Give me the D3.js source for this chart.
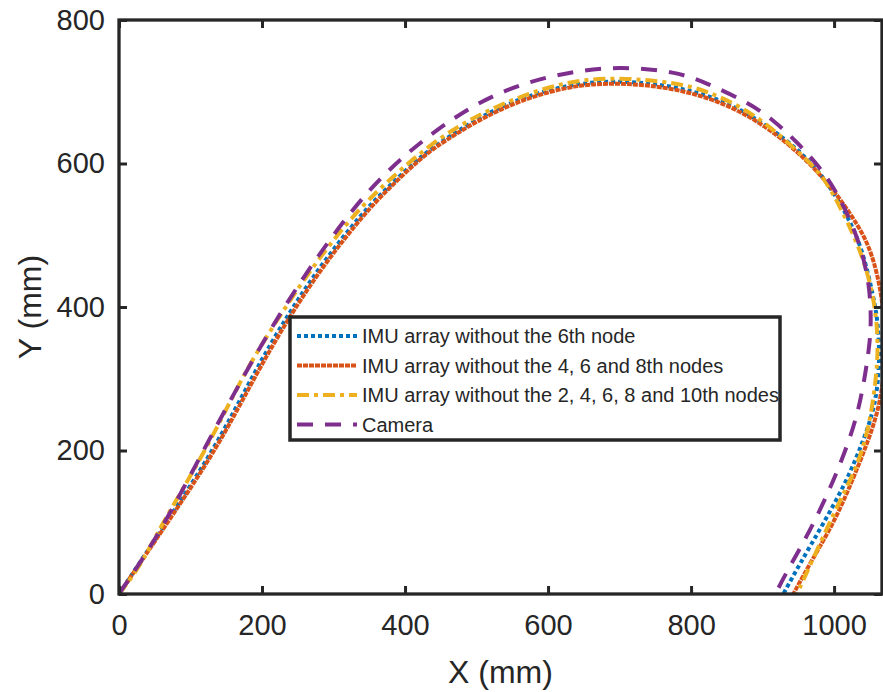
<!DOCTYPE html>
<html>
<head>
<meta charset="utf-8">
<script src="https://cdn.jsdelivr.net/npm/d3@7"></script>
<style>
  body { margin: 0; background: #fff; }
  svg { display: block; }
  text { font-family: "Liberation Sans", Arial, sans-serif; fill: #262626; }
</style>
</head>
<body>
<svg width="883" height="692"></svg>
<script>
// tick labels
const xTicks = [0, 200, 400, 600, 800, 1000];
const yTicks = [0, 200, 400, 600, 800];

const seriesNames = [
  'IMU array without the 6th node',
  'IMU array without the 4, 6 and 8th nodes',
  'IMU array without the 2, 4, 6, 8 and 10th nodes',
  'Camera'
];

// IMU array without the 6th node
const blueX = [0, 65, 135, 190, 237, 284, 340, 372, 415, 446, 530, 625, 701, 780, 859, 934, 980, 1018, 1040, 1054, 1062, 1064, 1057, 1041, 1018, 985, 952, 929];
const blueY = [0, 98, 204, 311, 391, 461, 531, 563, 604, 628, 681, 711, 716, 708, 684, 634, 590, 530, 479, 419, 377, 316, 260, 214, 158, 98, 42, 0];

// IMU array without the 4, 6 and 8th nodes
const orangeX = [0, 67, 138, 194, 241, 288, 344, 375, 418, 449, 533, 627, 701, 780, 859, 934, 994, 1036, 1053, 1067, 1074, 1065, 1048, 1024, 999, 971, 943];
const orangeY = [0, 98, 204, 311, 391, 461, 531, 563, 604, 628, 679, 709, 713, 705, 681, 632, 572, 511, 475, 419, 340, 265, 214, 154, 98, 51, 0];

// IMU array without the 2, 4, 6, 8 and 10th nodes
const yellowX = [0, 29, 60, 124, 176, 227, 274, 330, 375, 449, 533, 627, 701, 775, 822, 887, 943, 980, 999, 1027, 1045, 1057, 1062, 1059, 1049, 1032, 1008, 976, 948];
const yellowY = [0, 37, 98, 204, 311, 391, 461, 531, 575, 639, 684, 716, 720, 713, 702, 671, 623, 588, 558, 502, 455, 405, 350, 300, 232, 177, 130, 61, 0];

// Camera
const cameraX = [0, 57, 120, 178, 225, 271, 322, 375, 445, 523, 613, 701, 780, 822, 878, 915, 948, 980, 1004, 1025, 1040, 1050, 1052, 1049, 1035, 1014, 999, 980, 959, 931, 918];
const cameraY = [0, 84, 204, 311, 391, 461, 531, 591, 649, 698, 726, 736, 728, 712, 686, 661, 630, 595, 560, 516, 475, 427, 377, 339, 254, 195, 158, 116, 75, 26, 0];

const svg = d3.select('svg');
const margin = {top: 20, right: 1, bottom: 98, left: 119};
const width = +svg.attr('width');
const height = +svg.attr('height');
const innerWidth = width - margin.left - margin.right;
const innerHeight = height - margin.top - margin.bottom;
const ink = '#262626';

const xScale = d3.scaleLinear().domain([0, 1067]).range([0, innerWidth]);
const yScale = d3.scaleLinear().domain([0, 800]).range([innerHeight, 0]);

const g = svg.append('g')
  .attr('transform', `translate(${margin.left}, ${margin.top})`);

svg.append('defs').append('clipPath').attr('id', 'plotclip')
  .append('rect').attr('width', innerWidth).attr('height', innerHeight);

const series = [
  {name: seriesNames[0], xs: blueX, ys: blueY, color: '#0072BD', dash: '4,3'},
  {name: seriesNames[1], xs: orangeX, ys: orangeY, color: '#D95319', dash: '5,1'},
  {name: seriesNames[2], xs: yellowX, ys: yellowY, color: '#EDB120', dash: '12,5,4,5'},
  {name: seriesNames[3], xs: cameraX, ys: cameraY, color: '#7E2F8E', dash: '16,12'}
];

const line = d3.line()
  .x(d => xScale(d[0]))
  .y(d => yScale(d[1]))
  .curve(d3.curveBasis);

const plot = g.append('g').attr('clip-path', 'url(#plotclip)');
series.forEach(s => {
  plot.append('path')
    .datum(s.xs.map((x, i) => [x, s.ys[i]]))
    .attr('d', line)
    .attr('fill', 'none')
    .attr('stroke', s.color)
    .attr('stroke-width', 4)
    .attr('stroke-dasharray', s.dash);
});

// axes with inward ticks
const styleAxis = sel => {
  sel.select('.domain').remove();
  sel.selectAll('.tick line').attr('stroke', ink).attr('stroke-width', 3);
  sel.selectAll('.tick text').attr('fill', ink).style('font-size', '29px')
    .style('font-family', '"Liberation Sans", Arial, sans-serif');
};
const noLabels = sel => sel.selectAll('.tick text').remove();

g.append('g')
  .attr('transform', `translate(0, ${innerHeight})`)
  .call(d3.axisBottom(xScale).tickValues(xTicks).tickSize(-8).tickPadding(20).tickFormat(d3.format('d')))
  .call(styleAxis);
g.append('g')
  .call(d3.axisTop(xScale).tickValues(xTicks).tickSize(-8))
  .call(styleAxis).call(noLabels);
g.append('g')
  .call(d3.axisLeft(yScale).tickValues(yTicks).tickSize(-8).tickPadding(14).tickFormat(d3.format('d')))
  .call(styleAxis);
g.append('g')
  .attr('transform', `translate(${innerWidth}, 0)`)
  .call(d3.axisRight(yScale).tickValues(yTicks).tickSize(-8))
  .call(styleAxis).call(noLabels);

g.append('rect')
  .attr('width', innerWidth).attr('height', innerHeight)
  .attr('fill', 'none').attr('stroke', ink).attr('stroke-width', 3.3);

// axis labels
g.append('text')
  .attr('x', innerWidth / 2).attr('y', innerHeight + 89)
  .attr('text-anchor', 'middle')
  .style('font-size', '32px')
  .text('X (mm)');
g.append('text')
  .attr('transform', `translate(${30 - margin.left}, ${innerHeight / 2}) rotate(-90)`)
  .attr('text-anchor', 'middle')
  .attr('dominant-baseline', 'central')
  .style('font-size', '32px')
  .text('Y (mm)');

// legend
const legend = svg.append('g').attr('transform', 'translate(290, 317)');
legend.append('rect')
  .attr('width', 490).attr('height', 123)
  .attr('fill', '#fff').attr('stroke', ink).attr('stroke-width', 3.5);
series.forEach((s, i) => {
  const row = legend.append('g').attr('transform', `translate(0, ${19 + i * 29.5})`);
  row.append('line')
    .attr('x1', 7).attr('x2', 67).attr('y1', 0).attr('y2', 0)
    .attr('stroke', s.color).attr('stroke-width', 4)
    .attr('stroke-dasharray', s.dash);
  row.append('text')
    .attr('x', 72).attr('y', 0)
    .attr('dominant-baseline', 'central')
    .style('font-size', '20px')
    .text(s.name);
});
</script>
</body>
</html>
